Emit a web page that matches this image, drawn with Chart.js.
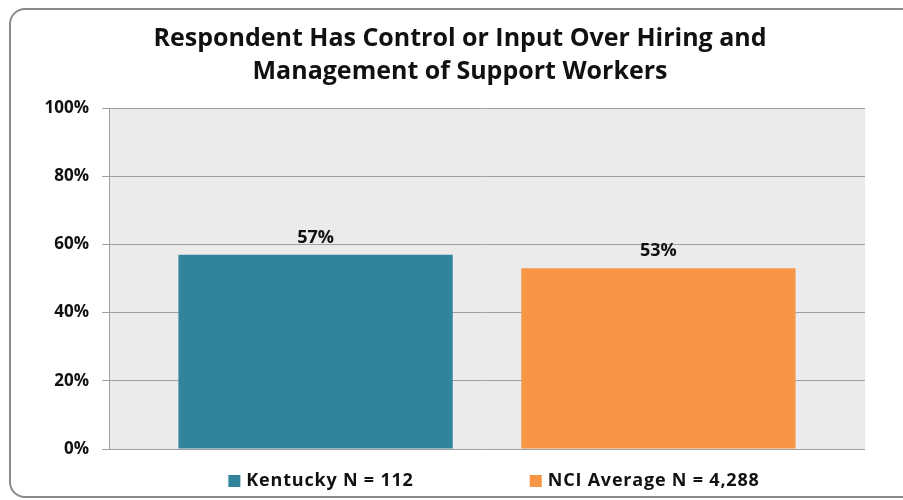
<!DOCTYPE html>
<html>
<head>
<meta charset="utf-8">
<script src="https://cdn.jsdelivr.net/npm/chart.js@4"></script>
<style>
  body { margin: 0; background: #fff; }
  #wrap { position: relative; width: 903px; height: 500px; overflow: hidden; }
  #frame { position: absolute; left: 9px; top: 8px; width: 905px; height: 486px;
           border: 2px solid #8a8a8a; border-radius: 16px; pointer-events: none; }
</style>
</head>
<body>
<div id="wrap">
  <canvas id="hiringChart" width="903" height="500"></canvas>
  <div id="frame"></div>
</div>
<script>
var titleLines = ["Respondent Has Control or Input Over Hiring and", "Management of Support Workers"];
var categories = [""];
var seriesNames = ["Kentucky N = 112", "NCI Average N = 4,288"];
var seriesValues = [57, 53];
var seriesColors = ["#31849b", "#f79646"];
var yTicks = [0, 20, 40, 60, 80, 100];

var fontFamily = "'Open Sans', Lato, sans-serif";

// grey plot area like the excel chart
var plotBackground = {
	id: 'plotBackground',
	beforeDraw: function(chart) {
		var a = chart.chartArea;
		var ctx = chart.ctx;
		ctx.save();
		ctx.fillStyle = '#ebebeb';
		ctx.fillRect(a.left, a.top, a.right - a.left, a.bottom - a.top);
		ctx.restore();
	}
};

// value labels above the bars
var barLabels = {
	id: 'barLabels',
	afterDatasetsDraw: function(chart) {
		var ctx = chart.ctx;
		ctx.save();
		ctx.font = 'bold 18px ' + fontFamily;
		ctx.fillStyle = '#111';
		ctx.textAlign = 'center';
		ctx.textBaseline = 'bottom';
		chart.data.datasets.forEach(function(ds, i) {
			chart.getDatasetMeta(i).data.forEach(function(bar, j) {
				ctx.fillText(ds.data[j] + '%', bar.x, bar.y - 8);
			});
		});
		ctx.restore();
	}
};

// legend drawn by hand so the spacing between items can be wide
var bottomLegend = {
	id: 'bottomLegend',
	afterDraw: function(chart) {
		var ctx = chart.ctx;
		var box = 12, gap = 6, spacing = 116;
		ctx.save();
		ctx.font = 'bold 18px ' + fontFamily;
		ctx.letterSpacing = '0.8px';
		var widths = chart.data.datasets.map(function(ds) {
			return box + gap + ctx.measureText(ds.label).width;
		});
		var total = widths.reduce(function(a, b) { return a + b; }, 0) + spacing * (widths.length - 1);
		var x = 494 - total / 2;
		var y = 481;
		ctx.textBaseline = 'middle';
		ctx.textAlign = 'left';
		chart.data.datasets.forEach(function(ds, i) {
			ctx.fillStyle = ds.backgroundColor;
			ctx.fillRect(x, y - box / 2, box, box);
			ctx.fillStyle = '#111';
			ctx.fillText(ds.label, x + box + gap, y);
			x += widths[i] + spacing;
		});
		ctx.restore();
	}
};

var datasets = seriesNames.map(function(name, i) {
	return {
		label: name,
		data: [seriesValues[i]],
		backgroundColor: seriesColors[i],
		borderWidth: 0
	};
});

var ctx = document.getElementById('hiringChart');
var hiringChart = new Chart(ctx, {
	type: 'bar',
	data: {
		labels: categories,
		datasets: datasets
	},
	options: {
		responsive: false,
		animation: false,
		layout: {
			padding: { top: 0, right: 0, bottom: 51, left: 17 }
		},
		datasets: {
			bar: { categoryPercentage: 0.907, barPercentage: 0.8 }
		},
		plugins: {
			legend: { display: false },
			tooltip: { enabled: false },
			title: {
				display: true,
				text: titleLines,
				color: '#111',
				font: { family: fontFamily, size: 25, weight: 'bold', lineHeight: 1.3 },
				padding: { top: 23, bottom: 20 }
			}
		},
		scales: {
			x: { display: false },
			y: {
				min: 0,
				max: 100,
				afterFit: function(scale) { scale.width = 92; },
				afterBuildTicks: function(scale) {
					scale.ticks = yTicks.map(function(v) { return { value: v }; });
				},
				ticks: {
					color: '#111',
					padding: 13,
					font: { family: fontFamily, size: 17, weight: 'bold' },
					callback: function(v) { return v + '%'; }
				},
				grid: { color: '#a0a0a0', tickLength: 7, lineWidth: 1 },
				border: { color: '#a0a0a0' }
			},
			// empty right-hand axis, only keeps the plot clear of the right edge
			yRight: {
				position: 'right',
				min: 0,
				max: 100,
				ticks: { display: false },
				grid: { display: false },
				border: { display: false },
				afterFit: function(scale) { scale.width = 38; }
			}
		}
	},
	plugins: [plotBackground, barLabels, bottomLegend]
});
</script>
</body>
</html>
